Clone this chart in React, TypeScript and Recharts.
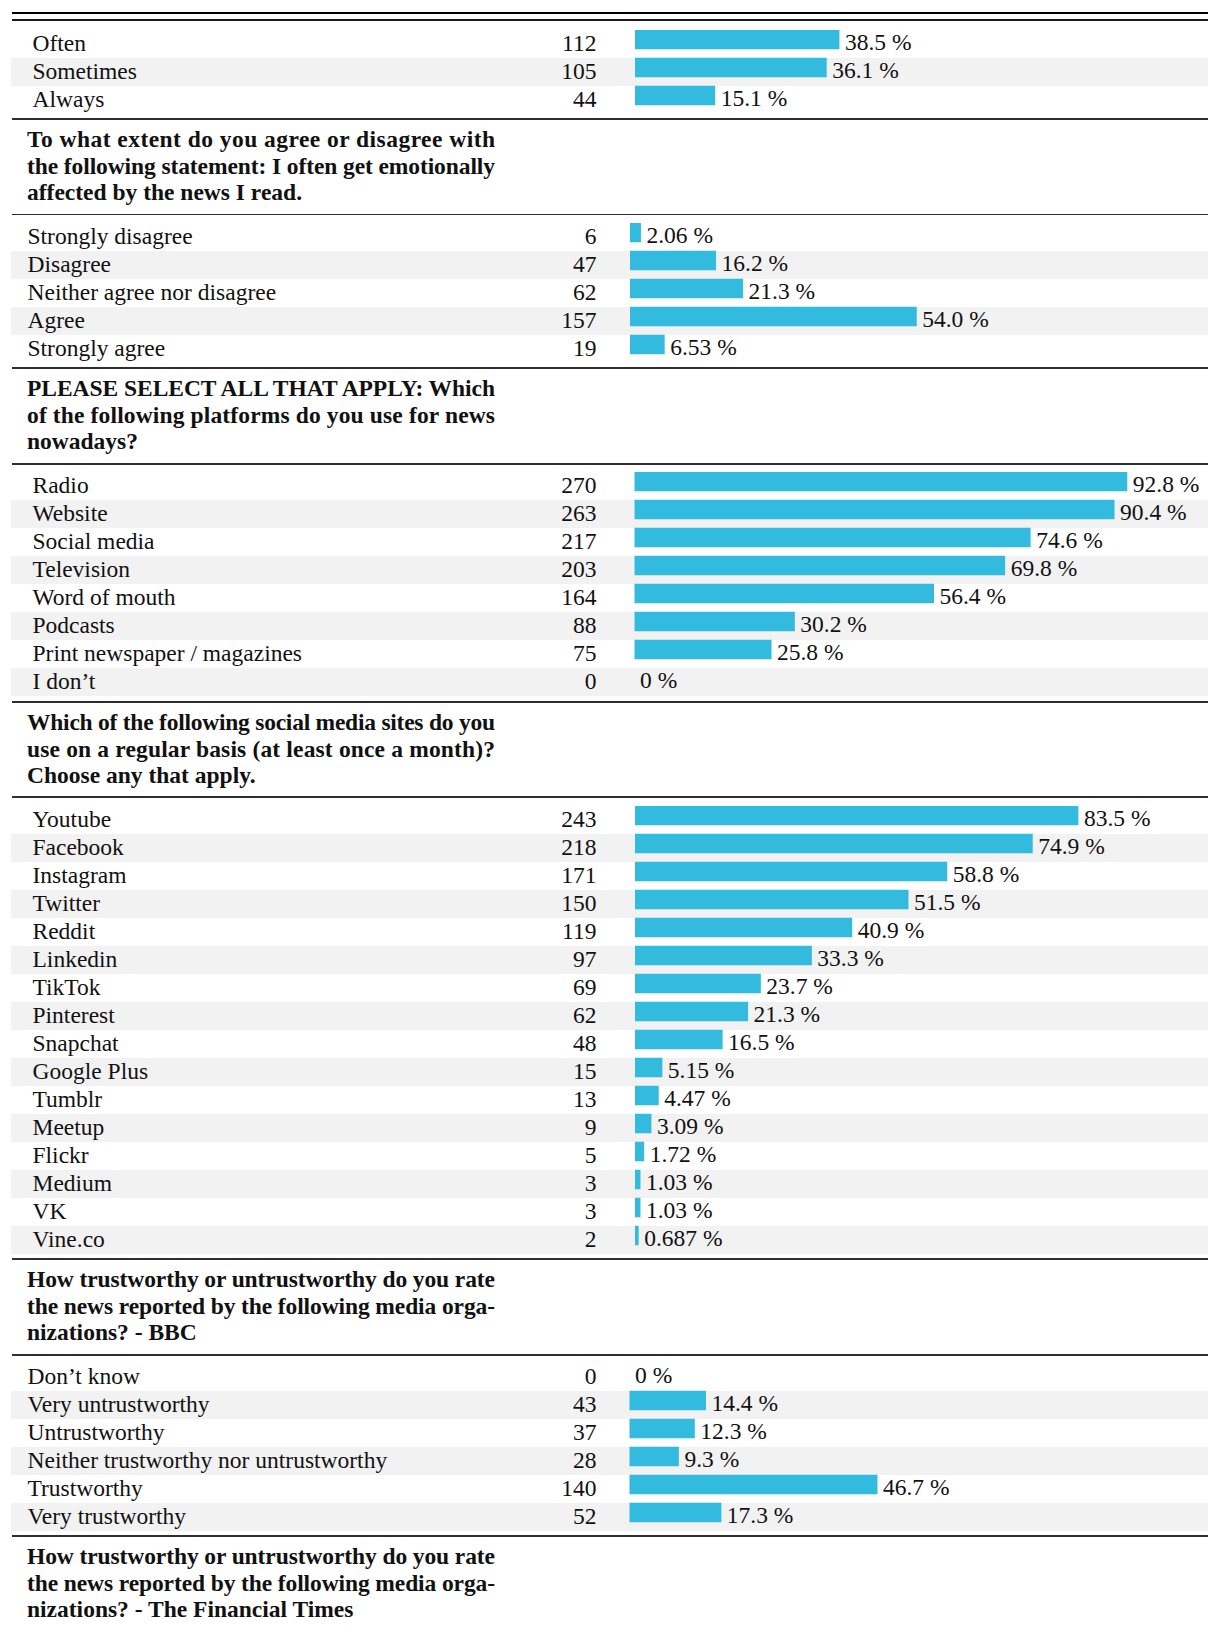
import React from "react";
import { BarChart, Bar, XAxis, YAxis, ReferenceArea, LabelList } from "recharts";

// ---------- data ----------
const freqLabels = ["Often", "Sometimes", "Always"];
const freqCounts = [112, 105, 44];
const freqPct = [38.5, 36.1, 15.1];

const emoQuestion = [
  "To what extent do you agree or disagree with",
  "the following statement: I often get emotionally",
  "affected by the news I read.",
];
const emoLabels = ["Strongly disagree", "Disagree", "Neither agree nor disagree", "Agree", "Strongly agree"];
const emoCounts = [6, 47, 62, 157, 19];
const emoPct = [2.06, 16.2, 21.3, 54.0, 6.53];

const platQuestion = [
  "PLEASE SELECT ALL THAT APPLY: Which",
  "of the following platforms do you use for news",
  "nowadays?",
];
const platLabels = [
  "Radio",
  "Website",
  "Social media",
  "Television",
  "Word of mouth",
  "Podcasts",
  "Print newspaper / magazines",
  "I don\u2019t",
];
const platCounts = [270, 263, 217, 203, 164, 88, 75, 0];
const platPct = [92.8, 90.4, 74.6, 69.8, 56.4, 30.2, 25.8, 0];

const socialQuestion = [
  "Which of the following social media sites do you",
  "use on a regular basis (at least once a month)?",
  "Choose any that apply.",
];
const socialLabels = [
  "Youtube",
  "Facebook",
  "Instagram",
  "Twitter",
  "Reddit",
  "Linkedin",
  "TikTok",
  "Pinterest",
  "Snapchat",
  "Google Plus",
  "Tumblr",
  "Meetup",
  "Flickr",
  "Medium",
  "VK",
  "Vine.co",
];
const socialCounts = [243, 218, 171, 150, 119, 97, 69, 62, 48, 15, 13, 9, 5, 3, 3, 2];
const socialPct = [83.5, 74.9, 58.8, 51.5, 40.9, 33.3, 23.7, 21.3, 16.5, 5.15, 4.47, 3.09, 1.72, 1.03, 1.03, 0.687];

const bbcQuestion = [
  "How trustworthy or untrustworthy do you rate",
  "the news reported by the following media orga-",
  "nizations? - BBC",
];
const bbcLabels = [
  "Don\u2019t know",
  "Very untrustworthy",
  "Untrustworthy",
  "Neither trustworthy nor untrustworthy",
  "Trustworthy",
  "Very trustworthy",
];
const bbcCounts = [0, 43, 37, 28, 140, 52];
const bbcPct = [0, 14.4, 12.3, 9.3, 46.7, 17.3];

const ftQuestion = [
  "How trustworthy or untrustworthy do you rate",
  "the news reported by the following media orga-",
  "nizations? - The Financial Times",
];

// ---------- layout / style ----------
const PAGE_W = 1208;
const ROW_H = 28;
const BAR_H = 19.5;
const PX_PER_PCT = 5.31;
const LEFT = 11;
const COUNT_X = 596.5;
const BASELINE = 20.5; // text baseline from row top
const FONT = '"Liberation Serif", "Times New Roman", Times, serif';
const FS = 23.5;
const TEXT = "#111";
const BAR_COLOR = "#33bbdf";
const BAND_COLOR = "#f2f2f2";
const RULE_COLOR = "#2e2e2e";
const HEADER_H = 95.7;
const HEAD_X = 27;
const HEAD_W = 468;
const HEAD_LINE = 26.7;
const HEAD_FIRST_BASE = 29;

type Section = {
  labels: string[];
  counts: number[];
  pct: number[];
  origin: number;
  labelX: number;
  fixed?: boolean;
};

const fmt = (v: number, fixed?: boolean) =>
  v === 0 ? "0" : fixed ? v.toFixed(1) : v.toPrecision(3);

function Rule({ h = 1.8, color = RULE_COLOR }: { h?: number; color?: string }) {
  return <div style={{ marginLeft: LEFT + 0.5, height: h, background: color }} />;
}

function Header({ lines }: { lines: string[] }) {
  return (
    <div style={{ height: HEADER_H, position: "relative" }}>
      <Rule />
      <svg
        width={PAGE_W}
        height={HEADER_H}
        style={{ position: "absolute", left: 0, top: 0, overflow: "visible" }}
      >
        {lines.map((l, i) => (
          <text
            key={i}
            x={HEAD_X}
            y={HEAD_FIRST_BASE + i * HEAD_LINE}
            fontFamily={FONT}
            fontSize={FS}
            fontWeight="bold"
            fill={TEXT}
            {...(i < lines.length - 1 ? { textLength: HEAD_W, lengthAdjust: "spacing" } : {})}
          >
            {l}
          </text>
        ))}
      </svg>
    </div>
  );
}

function RowsChart({ sec }: { sec: Section }) {
  const data = sec.labels.map((label, i) => ({ label, count: sec.counts[i], pct: sec.pct[i] }));
  const h = data.length * ROW_H;
  const shift = (ROW_H - BAR_H) / 2;
  const xMin = -(sec.origin - LEFT) / PX_PER_PCT;
  const xMax = (PAGE_W - sec.origin) / PX_PER_PCT;

  const renderTick = (props: any) => {
    const { y, payload } = props;
    const idx = payload?.index ?? props.index ?? 0;
    const by = Number(y) - ROW_H / 2 + BASELINE;
    return (
      <g>
        <text x={sec.labelX} y={by} fontFamily={FONT} fontSize={FS} fill={TEXT} textAnchor="start">
          {payload.value}
        </text>
        <text x={COUNT_X} y={by} fontFamily={FONT} fontSize={FS} fill={TEXT} textAnchor="end">
          {sec.counts[idx]}
        </text>
      </g>
    );
  };

  const renderBar = (p: any) => {
    const w = Number(p.width);
    if (!(w > 0)) return <g />;
    return <rect x={p.x} y={Number(p.y) - shift} width={w} height={p.height} fill={BAR_COLOR} />;
  };

  const renderLabel = (p: any) => {
    const x = Number(p.x) + Math.max(0, Number(p.width) || 0) + 5.5;
    const top = Number(p.y) - shift;
    const v = Number(p.value);
    return (
      <text x={x} y={top + BASELINE} fontFamily={FONT} fontSize={FS} fill={TEXT} textAnchor="start">
        {fmt(v, sec.fixed) + " %"}
      </text>
    );
  };

  return (
    <BarChart
      width={PAGE_W}
      height={h}
      data={data}
      layout="vertical"
      margin={{ top: 0, right: 0, bottom: 0, left: 0 }}
      barSize={BAR_H}
    >
      <XAxis type="number" hide domain={[xMin, xMax]} allowDataOverflow />
      <YAxis
        type="category"
        dataKey="label"
        width={LEFT}
        axisLine={false}
        tickLine={false}
        interval={0}
        tick={renderTick}
      />
      {data.map((d, i) =>
        i % 2 === 1 ? (
          <ReferenceArea
            key={d.label}
            y1={d.label}
            y2={d.label}
            fill={BAND_COLOR}
            fillOpacity={1}
            stroke="none"
            ifOverflow="visible"
          />
        ) : null
      )}
      <Bar dataKey="pct" fill={BAR_COLOR} isAnimationActive={false} shape={renderBar}>
        <LabelList dataKey="pct" content={renderLabel} />
      </Bar>
    </BarChart>
  );
}

function RowsBlock({ sec, first }: { sec: Section; first?: boolean }) {
  return (
    <div>
      {!first && <Rule />}
      <div style={{ height: first ? 9 : 7.3 }} />
      <RowsChart sec={sec} />
      <div style={{ height: first ? 4 : 4.6 }} />
    </div>
  );
}

const sections: Section[] = [
  { labels: freqLabels, counts: freqCounts, pct: freqPct, origin: 635, labelX: 32.5 },
  { labels: emoLabels, counts: emoCounts, pct: emoPct, origin: 630, labelX: 27.5 },
  { labels: platLabels, counts: platCounts, pct: platPct, origin: 634.5, labelX: 32.5 },
  { labels: socialLabels, counts: socialCounts, pct: socialPct, origin: 635, labelX: 32.5 },
  { labels: bbcLabels, counts: bbcCounts, pct: bbcPct, origin: 629.5, labelX: 27.5, fixed: true },
];

export default function App() {
  return (
    <div style={{ width: PAGE_W, height: 1628, overflow: "hidden", background: "#fff", fontFamily: FONT }}>
      <style>{"body{margin:0;background:#fff}"}</style>
      <div style={{ height: 12 }} />
      <Rule h={2.2} color="#000" />
      <div style={{ height: 5.3 }} />
      <Rule h={1.5} color="#1a1a1a" />
      <RowsBlock sec={sections[0]} first />
      <Header lines={emoQuestion} />
      <RowsBlock sec={sections[1]} />
      <Header lines={platQuestion} />
      <RowsBlock sec={sections[2]} />
      <Header lines={socialQuestion} />
      <RowsBlock sec={sections[3]} />
      <Header lines={bbcQuestion} />
      <RowsBlock sec={sections[4]} />
      <Header lines={ftQuestion} />
    </div>
  );
}
